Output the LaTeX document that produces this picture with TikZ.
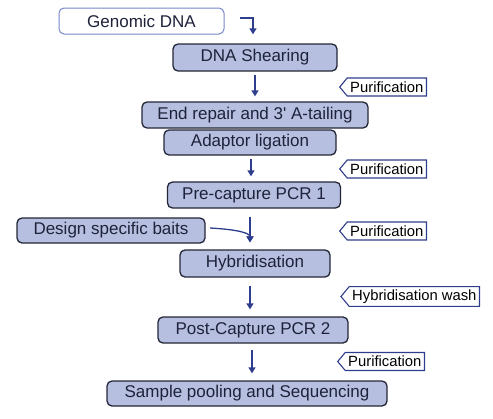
\documentclass[tikz,border=0pt]{standalone}
\usepackage{fontspec}
\setmainfont{Liberation Sans}
\usetikzlibrary{arrows.meta,shapes.symbols}
\definecolor{boxfill}{RGB}{182,191,224}
\definecolor{boxline}{RGB}{35,38,55}
\definecolor{flowblue}{RGB}{47,62,140}
\definecolor{startline}{RGB}{120,135,200}
\definecolor{textdark}{RGB}{30,34,58}
\begin{document}
\begin{tikzpicture}[x=1pt, y=-1pt,
    stepbox/.style={draw=boxline, line width=1.3pt, fill=boxfill, rounded corners=5pt,
        text=textdark, font=\fontsize{17}{20}\selectfont, inner sep=0pt},
    startbox/.style={stepbox, draw=startline, line width=1pt, fill=white},
    tagbox/.style={signal, signal to=west, signal pointer angle=100, draw=flowblue,
        line width=1.1pt, fill=white, text=black, font=\fontsize{14.8}{17}\selectfont,
        minimum height=18pt, inner sep=3pt, anchor=east},
    flow/.style={draw=flowblue, line width=1.3pt, -{Triangle[width=7pt,length=6pt]}}]
    \useasboundingbox (0,0) rectangle (493,418);
    \node[startbox, minimum width=165pt, minimum height=26pt] (genomic)     at (141.5,21)  {Genomic DNA};
    \node[stepbox,  minimum width=164pt, minimum height=27pt] (shearing)    at (255,57.5)  {DNA Shearing};
    \node[stepbox,  minimum width=226pt, minimum height=26pt] (endrepair)   at (255,115)   {End repair and 3\textquotesingle{} A-tailing};
    \node[stepbox,  minimum width=172pt, minimum height=25pt] (adaptor)     at (250,142.5) {Adaptor ligation};
    \node[stepbox,  minimum width=173pt, minimum height=26pt] (precapture)  at (254,195)   {Pre-capture PCR 1};
    \node[stepbox,  minimum width=188pt, minimum height=25pt] (baits)       at (111,230.5) {Design specific baits};
    \node[stepbox,  minimum width=150pt, minimum height=27pt] (hybrid)      at (255,263.5) {Hybridisation};
    \node[stepbox,  minimum width=190pt, minimum height=26pt] (postcapture) at (253,330)   {Post-Capture PCR 2};
    \node[stepbox,  minimum width=280pt, minimum height=25pt] (pooling)     at (247,393.5) {Sample pooling and Sequencing};
    \node[tagbox] (purif1) at (427,87)    {Purification};
    \node[tagbox] (purif2) at (427,169)   {Purification};
    \node[tagbox] (purif3) at (427,231)   {Purification};
    \node[tagbox] (wash)   at (480,296.5) {Hybridisation wash};
    \node[tagbox] (purif4) at (425,361.5) {Purification};
    \coordinate (gstart) at (240,18);
    \coordinate (bstart) at (210,228);
    \draw[flow, shorten >=9pt] (gstart) -| ([xshift=-2pt]shearing.north);
    \draw[flow, shorten <=3pt, shorten >=5pt] (shearing.south) -- (endrepair.north);
    \draw[flow, shorten <=3pt, shorten >=5pt] ([xshift=1pt]adaptor.south) -- ([xshift=1pt]adaptor.south |- precapture.north);
    \draw[flow, shorten <=8pt, shorten >=7pt] ([xshift=-4pt]precapture.south) -- ([xshift=-5pt]hybrid.north);
    \draw[flow, shorten >=7pt] (bstart) to[out=-3, in=90] ([xshift=-5pt]hybrid.north);
    \draw[flow, shorten <=8pt, shorten >=7pt] ([xshift=-5pt]hybrid.south) -- ([xshift=-5pt]hybrid.south |- postcapture.north);
    \draw[flow, shorten <=6pt, shorten >=7pt] ([xshift=-1pt]postcapture.south) -- ([xshift=-1pt]postcapture.south |- pooling.north);
\end{tikzpicture}
\end{document}
